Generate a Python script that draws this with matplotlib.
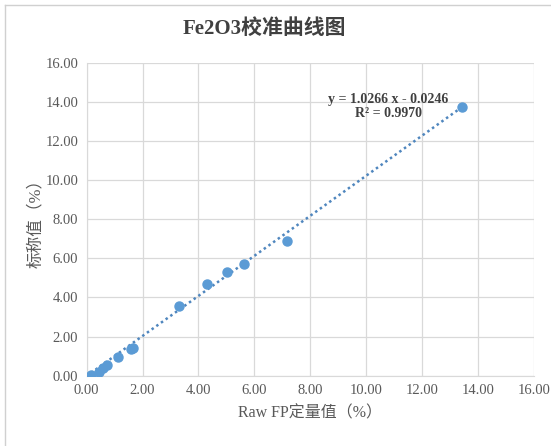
import matplotlib
matplotlib.use("Agg")
import matplotlib.pyplot as plt
import numpy as np
from matplotlib.lines import Line2D

raw_fp = [0.15, 0.45, 0.59, 0.72, 1.11, 1.57, 1.67, 3.30, 4.29, 5.01, 5.63, 7.17, 13.43]
nominal = [0.05, 0.19, 0.40, 0.54, 0.96, 1.34, 1.39, 3.56, 4.71, 5.31, 5.70, 6.88, 13.75]
slope = 1.0266
intercept = -0.0246
r2 = 0.9970
ticks = [0, 2, 4, 6, 8, 10, 12, 14, 16]

title = "Fe2O3校准曲线图"
xlabel = "Raw FP定量值（%）"
ylabel = "标称值（%）"

serif = ['Liberation Serif', 'Noto Sans CJK SC', 'DejaVu Serif']
mixed = ['Liberation Serif', 'Noto Sans CJK SC']
plt.rcParams['font.family'] = serif

fig = plt.figure(figsize=(5.51, 4.46), dpi=100)
ax = fig.add_axes([0.1573, 0.158, 0.8117, 0.700])

blue = '#5B9BD5'
ax.plot(raw_fp, nominal, 'o', color=blue, markersize=6.5, zorder=3)
xs = np.array([min(raw_fp), max(raw_fp)])
ax.plot(xs, slope * xs + intercept, linestyle=(0, (1, 1.3)), color='#4F86BE', linewidth=1.8, zorder=2)

ax.set_xlim(0, 16)
ax.set_ylim(0, 16)
ax.set_xticks(ticks)
ax.set_yticks(ticks)
ax.set_xticklabels([f"{t:.2f}" for t in ticks])
ax.set_yticklabels([f"{t:.2f}" for t in ticks])
ax.grid(True, color='#D9D9D9', linewidth=0.9)
ax.set_axisbelow(True)
for s in ax.spines.values():
    s.set_visible(False)
ax.spines['left'].set_visible(True)
ax.spines['bottom'].set_visible(True)
ax.spines['left'].set_color('#D9D9D9')
ax.spines['bottom'].set_color('#D9D9D9')
ax.tick_params(length=0, labelsize=10.5, labelcolor='#595959', pad=6)

ax.set_xlabel(xlabel, fontsize=11.5, color='#595959', family=mixed, labelpad=6)
ax.set_ylabel(ylabel, fontsize=12, color='#595959', family=mixed, labelpad=1)

fig.text(0.48, 0.935, title, ha='center', va='center', fontsize=15, fontweight='bold',
         color='#404040', family=mixed)

ax.text(10.78, 13.8, f"y = {slope:.4f} x - {abs(intercept):.4f}\nR² = {r2:.4f}",
        ha='center', va='center', fontsize=10, fontweight='bold', color='#404040',
        linespacing=1.1)

fig.add_artist(Line2D([5/551, 5/551], [0, 1-5/446], transform=fig.transFigure, color='#D0D0D0', linewidth=1))
fig.add_artist(Line2D([5/551, 1], [1-5/446, 1-5/446], transform=fig.transFigure, color='#D0D0D0', linewidth=1))

fig.savefig("out.png", dpi=100)
